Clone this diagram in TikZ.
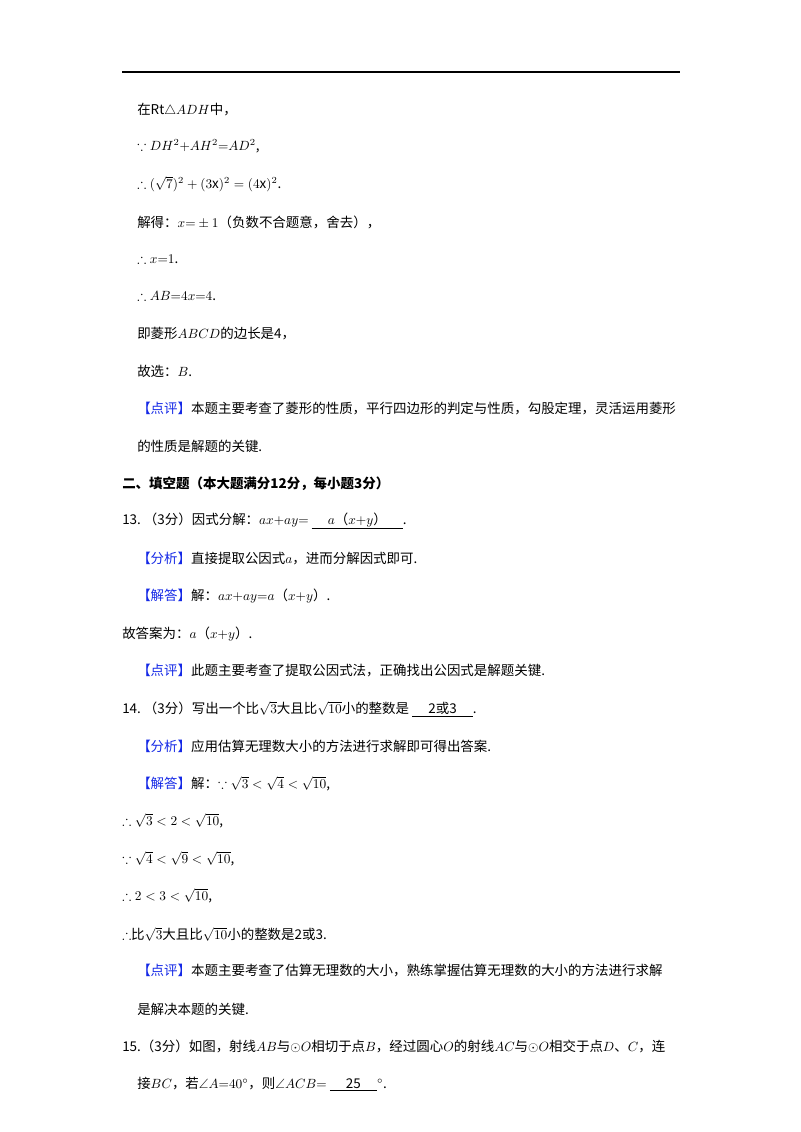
\documentclass[tikz,border=0pt]{standalone}
\usepackage{fontspec}
\usepackage{amsmath,amssymb}
\setmainfont{Noto Sans CJK SC}
\usetikzlibrary{positioning}
\definecolor{tagblue}{RGB}{20,40,230}
\newcommand{\hdtag}[1]{\textcolor{tagblue}{【#1】}}
\newcommand{\ans}[1]{\underline{\hspace{1.2em}#1\hspace{1.2em}}}
\tikzset{
  txt/.style={anchor=west, inner sep=0pt, font=\fontsize{10.1}{12}\selectfont},
  rule/.style={line width=0.8pt}
}
\begin{document}
\begin{tikzpicture}[x=0.75pt,y=-0.75pt]
  \useasboundingbox (0,0) rectangle (800,1132);
  % top rule
  \coordinate (rl) at (122,72);
  \coordinate (rr) at (680,72);
  \draw[rule] (rl) -- (rr);
  % previous solution
  \node[txt] (l1) at (137,110) {在Rt$\triangle ADH$中，};
  \node[txt] (l2) at (137,146) {$\because DH^2{+}AH^2{=}AD^2$,};
  \node[txt] (l3) at (137,184) {$\therefore(\sqrt{7})^2+(3\mathrm{x})^2=(4\mathrm{x})^2$.};
  \node[txt] (l4) at (137,222) {解得：$x{=}\pm1$（负数不合题意，舍去），};
  \node[txt] (l5) at (137,259) {$\therefore x{=}1$.};
  \node[txt] (l6) at (137,296) {$\therefore AB{=}4x{=}4$.};
  \node[txt] (l7) at (137,334) {即菱形$ABCD$的边长是4，};
  \node[txt] (l8) at (137,371) {故选：$B$.};
  \node[txt] (l9) at (137,409) {\hdtag{点评}本题主要考查了菱形的性质，平行四边形的判定与性质，勾股定理，灵活运用菱形};
  \node[txt] (l10) at (137,446) {的性质是解题的关键.};
  % section two
  \node[txt,font=\fontsize{10.1}{12}\selectfont\bfseries] (sec) at (122,484) {二、填空题（本大题满分12分，每小题3分）};
  % question 13
  \node[txt] (q13) at (122,521) {13.\ （3分）因式分解：$ax{+}ay{=}$\ \ans{$a$（$x{+}y$）}.};
  \node[txt] (q13a) at (137,559) {\hdtag{分析}直接提取公因式$a$，进而分解因式即可.};
  \node[txt] (q13b) at (137,596) {\hdtag{解答}解：$ax{+}ay{=}a$（$x{+}y$）.};
  \node[txt] (q13c) at (122,634) {故答案为：$a$（$x{+}y$）.};
  \node[txt] (q13d) at (137,671) {\hdtag{点评}此题主要考查了提取公因式法，正确找出公因式是解题关键.};
  % question 14
  \node[txt] (q14) at (122,709) {14.\ （3分）写出一个比$\sqrt{3}$大且比$\sqrt{10}$小的整数是\ \ans{2或3}.};
  \node[txt] (q14a) at (137,746) {\hdtag{分析}应用估算无理数大小的方法进行求解即可得出答案.};
  \node[txt] (q14b) at (137,784) {\hdtag{解答}解：$\because\sqrt{3}<\sqrt{4}<\sqrt{10}$,};
  \node[txt] (q14c) at (122,821) {$\therefore\sqrt{3}<2<\sqrt{10}$,};
  \node[txt] (q14d) at (122,859) {$\because\sqrt{4}<\sqrt{9}<\sqrt{10}$,};
  \node[txt] (q14e) at (122,896) {$\therefore 2<3<\sqrt{10}$,};
  \node[txt] (q14f) at (122,934) {$\therefore$比$\sqrt{3}$大且比$\sqrt{10}$小的整数是2或3.};
  \node[txt] (q14g) at (137,971) {\hdtag{点评}本题主要考查了估算无理数的大小，熟练掌握估算无理数的大小的方法进行求解};
  \node[txt] (q14h) at (137,1009) {是解决本题的关键.};
  % question 15
  \node[txt] (q15) at (122,1046) {15.（3分）如图，射线$AB$与$\odot O$相切于点$B$，经过圆心$O$的射线$AC$与$\odot O$相交于点$D$、$C$，连};
  \node[txt] (q15b) at (137,1084) {接$BC$，若$\angle A{=}40^\circ$，则$\angle ACB{=}$\ \ans{25}$^\circ$.};
\end{tikzpicture}
\end{document}
